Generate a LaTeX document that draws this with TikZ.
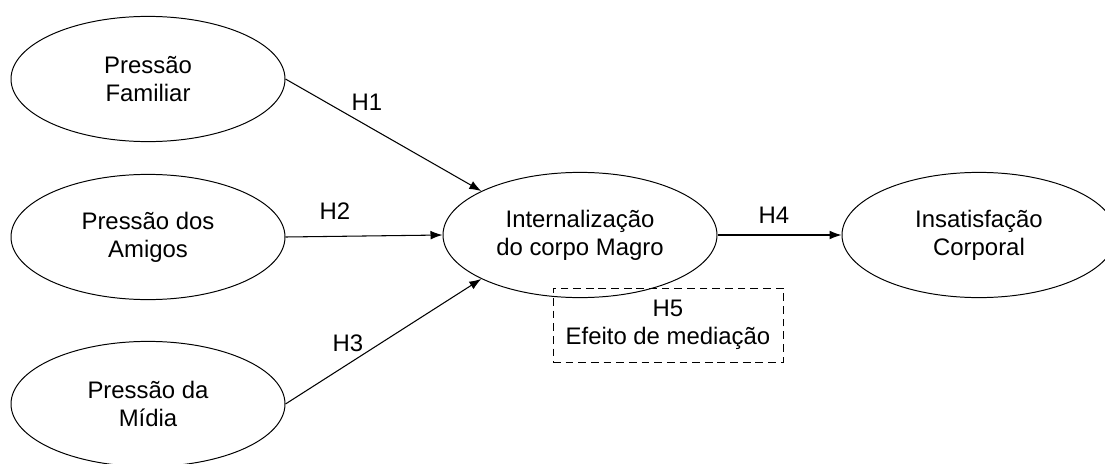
\documentclass[tikz,border=0pt]{standalone}
\usepackage{fontspec}
\setmainfont{Liberation Sans}
\usetikzlibrary{shapes.geometric,arrows.meta,positioning}
\tikzset{
  every picture/.style={line width=0.7pt},
  construct/.style={
    ellipse,
    draw,
    minimum width=6.85cm,
    minimum height=3.13cm,
    align=center,
    inner sep=0pt
  },
  path/.style={->, line width=0.75pt},
  hyp/.style={inner sep=0pt},
  mediation/.style={
    draw,
    dash pattern=on 5.5pt off 3.5pt,
    minimum width=5.75cm,
    minimum height=1.85cm,
    align=center,
    inner sep=0pt
  }
}
\begin{document}
\begin{tikzpicture}[>={Latex[length=3mm,width=2.2mm]},
  font=\fontsize{17}{20}\selectfont]
  \useasboundingbox (0,0) rectangle (27.625,-11.575);

  \node [construct] (pf) at (3.7,-1.975)  {Pressão\\Familiar};
  \node [construct] (pa) at (3.7,-5.925)  {Pressão dos\\Amigos};
  \node [construct] (pm) at (3.7,-10.1)   {Pressão da\\Mídia};
  \node [construct] (im) at (14.5,-5.875) {Internalização\\do corpo Magro};
  \node [construct] (ic) at (24.475,-5.875) {Insatisfação\\Corporal};

  \node [mediation] (med) at (16.7,-8.125) {H5\\Efeito de mediação};

  \draw [path] (pf.east) -- (im.156);
  \draw [path] (pa.east) -- (im.west);
  \draw [path] (pm.east) -- (im.204);
  \draw [path] (im.east) -- (ic.west);

  \node [hyp] (h1) at (9.175,-2.55)  {H1};
  \node [hyp] (h2) at (8.375,-5.275) {H2};
  \node [hyp] (h3) at (8.7,-8.575)   {H3};
  \node [hyp] (h4) at (19.35,-5.375) {H4};
\end{tikzpicture}
\end{document}
